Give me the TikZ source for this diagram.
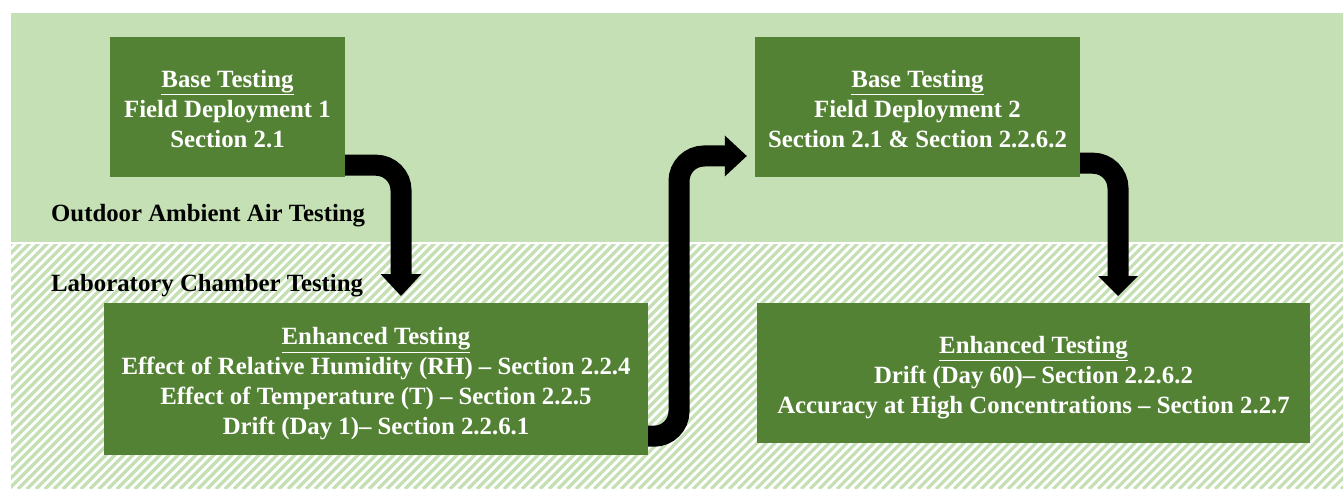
\documentclass[tikz,border=0pt]{standalone}
\usepackage{fontspec}
\setmainfont{Liberation Serif}
\usetikzlibrary{arrows.meta}
\definecolor{lightgreen}{HTML}{C5E0B4}
\definecolor{darkgreen}{HTML}{548235}
\newcommand\toppad[1]{\rule{0pt}{#1}}

\begin{document}
\begin{tikzpicture}[x=1pt,y=-1pt,
    box/.style={fill=darkgreen,text=white,align=center,inner sep=0pt,
      font=\bfseries\fontsize{24.8}{30}\selectfont},
    zone/.style={anchor=west,inner sep=0pt,font=\bfseries\fontsize{24.8}{30}\selectfont},
    flow/.style={line width=21pt,rounded corners=25pt,
      -{Triangle[width=41pt,length=22pt,line width=0pt]}}]
  \useasboundingbox (0,0) rectangle (1343,489);
  % outdoor band and hatched laboratory band
  \fill[lightgreen] (11,13) rectangle (1343,242);
  \begin{scope}
    \clip (11,244) rectangle (1343,489);
    \foreach \x in {-252,-243,...,1343}
      \draw[lightgreen,line width=3.2pt] (\x,489) -- ++(250,-250);
  \end{scope}
  \node[zone] (outdoor) at (51,216) {Outdoor Ambient Air Testing};
  \node[zone] (lab) at (51,286) {Laboratory Chamber Testing};
  % steps
  \node[box,minimum width=235pt,minimum height=140pt] (base1) at (227.5,107)
    {\toppad{21pt}\underline{Base Testing}\\Field Deployment 1\\Section 2.1};
  \node[box,minimum width=544pt,minimum height=152pt] (enh1) at (376,379)
    {\toppad{27pt}\underline{Enhanced Testing}\\Effect of Relative Humidity (RH) – Section 2.2.4\\
     Effect of Temperature (T) – Section 2.2.5\\Drift (Day 1)– Section 2.2.6.1};
  \node[box,minimum width=325pt,minimum height=140pt] (base2) at (917.5,107)
    {\toppad{21pt}\underline{Base Testing}\\Field Deployment 2\\Section 2.1 \& Section 2.2.6.2};
  \node[box,minimum width=553pt,minimum height=140pt] (enh2) at (1033.5,373)
    {\toppad{27pt}\underline{Enhanced Testing}\\Drift (Day 60)– Section 2.2.6.2\\
     Accuracy at High Concentrations – Section 2.2.7};
  % arrows
  \coordinate (turn1) at (401,296);
  \coordinate (turn2) at (679,156);
  \coordinate (turn3) at (1118,296);
  \draw[flow] ([yshift=12pt]base1.south east) -| (turn1);
  \draw[flow] ([yshift=19pt]enh1.south east) -| (turn2) -- ([xshift=-8pt]base2.west |- turn2);
  \draw[flow,-{Triangle[width=40pt,length=20pt,line width=0pt]}]
    ([yshift=14pt]base2.south east) -| (turn3);
\end{tikzpicture}
\end{document}
